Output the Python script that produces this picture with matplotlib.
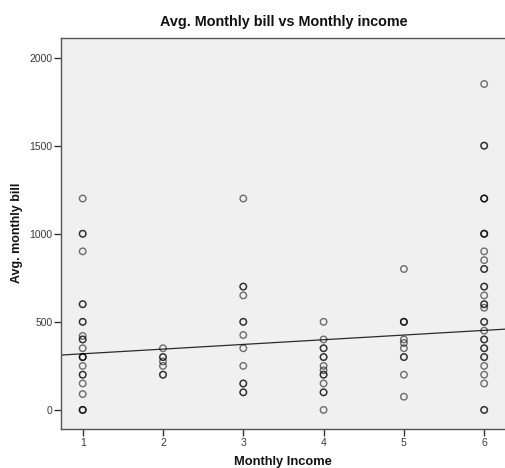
import numpy as np
import matplotlib
matplotlib.use("Agg")
import matplotlib.pyplot as plt

plt.rcParams["font.family"] = ["Liberation Sans", "DejaVu Sans"]

# Monthly income group (1-6) and average monthly bill for each respondent
income_1 = [1] * 23
bill_1 = [1200, 1000, 1000, 900, 600, 600, 500, 500, 420, 400, 400, 350,
          300, 300, 300, 250, 200, 200, 150, 90, 0, 0, 0]
income_2 = [2] * 7
bill_2 = [350, 300, 300, 275, 250, 200, 200]
income_3 = [3] * 13
bill_3 = [1200, 700, 700, 650, 500, 500, 425, 350, 250, 150, 150, 100, 100]
income_4 = [4] * 14
bill_4 = [500, 400, 350, 350, 300, 300, 250, 225, 200, 200, 150, 100, 100, 0]
income_5 = [5] * 11
bill_5 = [800, 500, 500, 400, 380, 350, 300, 300, 200, 75, 500]
income_6 = [6] * 33
bill_6 = [1850, 1500, 1500, 1200, 1200, 1000, 1000, 900, 850, 800, 800,
          700, 700, 650, 600, 600, 580, 500, 500, 450, 400, 400, 350, 350,
          300, 300, 250, 200, 150, 0, 0, 1200, 1000]

# Linear fit (total sample) of bill on income
fit_intercept = 292.0
fit_slope = 26.6

income = np.array(income_1 + income_2 + income_3 + income_4 + income_5 + income_6, float)
bill = np.array(bill_1 + bill_2 + bill_3 + bill_4 + bill_5 + bill_6, float)

x_ticks = [1, 2, 3, 4, 5, 6]
y_ticks = [0, 500, 1000, 1500, 2000]

W, H = 505, 468
fig = plt.figure(figsize=(W / 100, H / 100), dpi=100)
fig.patch.set_facecolor("white")

xlim = (0.73, 6.27)
ylim = (-110, 2114)
left, right = 61, 61 + (xlim[1] - xlim[0]) * 80.3
top, bottom = 37.5, 429.3
ax = fig.add_axes([left / W, 1 - bottom / H, (right - left) / W, (bottom - top) / H])
ax.set_facecolor("#F0F0F0")

ax.scatter(income, bill, s=22, facecolors="none", edgecolors="#000000",
           linewidths=1.0, alpha=0.55, zorder=3)

xs = np.array(xlim)
ax.plot(xs, fit_intercept + fit_slope * xs, color="#2a2a2a", lw=0.9, zorder=2)

ax.set_xlim(*xlim)
ax.set_ylim(*ylim)
ax.set_xticks(x_ticks)
ax.set_yticks(y_ticks)
ax.set_xticklabels([str(v) for v in x_ticks])
ax.set_yticklabels([str(v) for v in y_ticks])
ax.tick_params(direction="out", length=5, width=1, color="#333333",
               labelsize=7.5, labelcolor="#3a3a3a", pad=1)

for side in ["left", "bottom", "top", "right"]:
    ax.spines[side].set_color("#555555")
    ax.spines[side].set_linewidth(1.0)

fig.text((left + right) / 2 / W, 1 - 22 / H, "Avg. Monthly bill vs Monthly income",
         ha="center", va="center", fontsize=10.4, fontweight="bold", color="#111111")
fig.text(17 / W, 1 - 233 / H, "Avg. monthly bill", rotation=90,
         ha="center", va="center", fontsize=9.0, fontweight="bold", color="#111111")
fig.text(283 / W, 1 - 462 / H, "Monthly Income",
         ha="center", va="center", fontsize=9.3, fontweight="bold", color="#111111")

fig.savefig("out.png", dpi=100)
